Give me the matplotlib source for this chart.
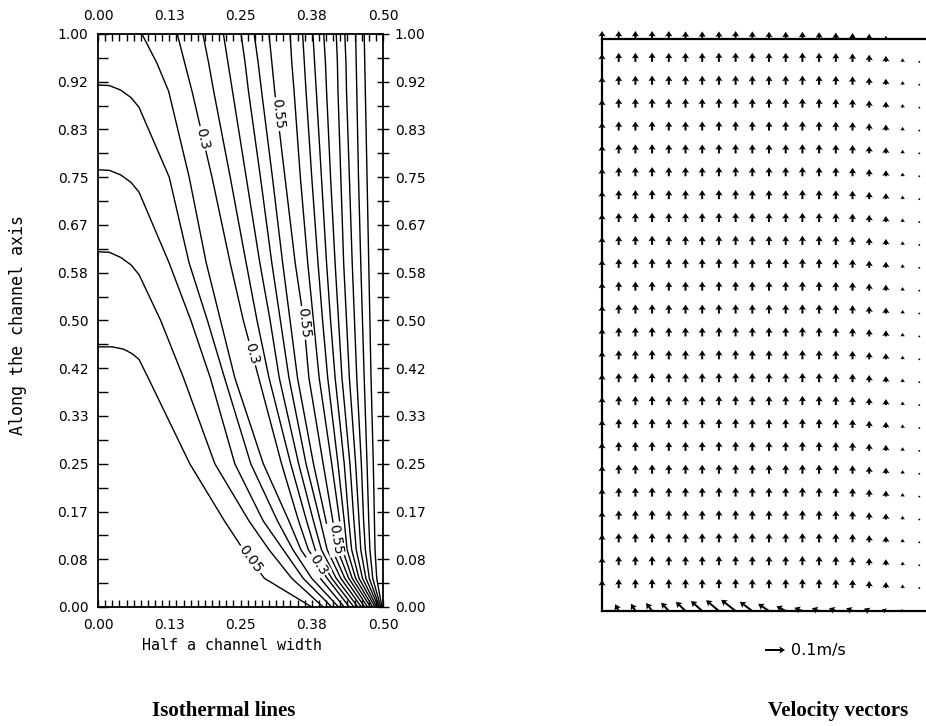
import numpy as np
import matplotlib
matplotlib.use("Agg")
import matplotlib.pyplot as plt
from matplotlib.ticker import MultipleLocator, FixedLocator

nan = np.nan

# ---------------- isotherm data ----------------
levels = [0.05, 0.10, 0.15, 0.20, 0.25, 0.30, 0.35, 0.40, 0.45, 0.50,
          0.55, 0.60, 0.65, 0.70, 0.75, 0.80, 0.85, 0.90, 0.95]
heights = [1.0, 0.95, 0.9, 0.75, 0.6, 0.5, 0.4, 0.25, 0.15, 0.1, 0.05, 0.0]

# x position of every isotherm (one entry per level) at each height
x_h100 = [nan, nan, nan, nan, .077, .139, .184, .220, .251, .274, .300, .337, .359, .377, .396, .418, .433, .452, .467]
x_h095 = [nan, nan, nan, nan, .103, .152, .194, .228, .258, .281, .305, .340, .362, .380, .399, .420, .435, .453, .468]
x_h090 = [nan, nan, nan, nan, .124, .165, .203, .236, .264, .287, .310, .344, .365, .383, .401, .421, .436, .454, .469]
x_h075 = [nan, nan, nan, .125, .160, .200, .232, .260, .285, .306, .328, .355, .375, .392, .408, .426, .441, .457, .472]
x_h060 = [nan, nan, .125, .160, .190, .232, .260, .284, .305, .324, .346, .368, .386, .401, .416, .431, .446, .461, .475]
x_h050 = [nan, .110, .163, .192, .215, .255, .279, .302, .320, .337, .361, .378, .394, .408, .422, .436, .450, .464, .477]
x_h040 = [.088, .150, .197, .222, .240, .282, .300, .318, .335, .350, .370, .388, .403, .416, .428, .441, .454, .467, .479]
x_h025 = [.161, .205, .240, .268, .290, .322, .338, .352, .365, .378, .395, .410, .421, .432, .442, .452, .462, .472, .483]
x_h015 = [.222, .265, .290, .315, .335, .352, .366, .378, .390, .400, .412, .424, .432, .440, .449, .458, .466, .475, .485]
x_h010 = [.255, .300, .325, .342, .356, .369, .381, .392, .402, .411, .420, .429, .437, .445, .453, .461, .469, .477, .486]
x_h005 = [.292, .340, .360, .375, .390, .402, .410, .418, .426, .433, .440, .446, .452, .458, .464, .470, .476, .482, .489]
x_h000 = [.375, .395, .410, .422, .432, .441, .449, .456, .462, .468, .473, .478, .482, .486, .489, .492, .494, .496, .498]

# isotherms that start on the left wall: wall point, then the rounded knee
wall_levels = [0.05, 0.10, 0.15, 0.20]
wall_y = [0.454, 0.620, 0.763, 0.911]
knee_x1 = [0.025, 0.020, 0.020, 0.020]
knee_y1 = [0.454, 0.619, 0.762, 0.910]
knee_x2 = [0.045, 0.040, 0.040, 0.040]
knee_y2 = [0.450, 0.610, 0.754, 0.902]
knee_x3 = [0.060, 0.058, 0.058, 0.058]
knee_y3 = [0.442, 0.597, 0.741, 0.889]
knee_x4 = [0.072, 0.072, 0.072, 0.072]
knee_y4 = [0.432, 0.580, 0.724, 0.872]

# contour labels
label_level = [0.30, 0.55, 0.30, 0.55, 0.05, 0.30, 0.55]
label_text = ["0.3", "0.55", "0.3", "0.55", "0.05", "0.3", "0.55"]
label_y = [0.818, 0.860, 0.443, 0.496, 0.083, 0.074, 0.118]

x_ticks = [0.0, 0.125, 0.25, 0.375, 0.5]
x_tick_labels = ["0.00", "0.13", "0.25", "0.38", "0.50"]
y_ticks = [k / 12 for k in range(13)]
y_tick_labels = ["0.00", "0.08", "0.17", "0.25", "0.33", "0.42", "0.50",
                 "0.58", "0.67", "0.75", "0.83", "0.92", "1.00"]

# ---------------- velocity data (m/s) ----------------
n_cols = 20
n_rows = 26  # including bottom (0) and top (25) boundary rows
interior_v = [0.040, 0.045, 0.045, 0.046, 0.045, 0.045, 0.045, 0.046, 0.046, 0.045,
              0.045, 0.045, 0.046, 0.045, 0.044, 0.042, 0.036, 0.030, 0.018, 0.006]
top_v = [0.040, 0.040, 0.040, 0.040, 0.040, 0.038, 0.038, 0.038, 0.040, 0.038,
         0.036, 0.036, 0.036, 0.034, 0.032, 0.030, 0.026, 0.016, 0.008, 0.004]
bottom_u = [0.0, -0.018, -0.022, -0.030, -0.038, -0.048, -0.056, -0.064, -0.072, -0.062,
            -0.054, -0.046, -0.040, -0.036, -0.034, -0.032, -0.026, -0.020, -0.012, -0.006]
bottom_v = [0.0, 0.034, 0.036, 0.040, 0.042, 0.046, 0.050, 0.054, 0.056, 0.046,
            0.036, 0.024, 0.016, 0.014, 0.014, 0.014, 0.012, 0.008, 0.005, 0.0]
ref_speed = 0.1

# ---------------- figure ----------------
W, H = 926, 726
fig = plt.figure(figsize=(W / 100, H / 100), dpi=100)
fig.patch.set_facecolor("white")

ax = fig.add_axes([98 / W, 1 - 607 / H, 285 / W, 573 / H])
ax.set_xlim(0, 0.5)
ax.set_ylim(0, 1)

table = np.array([x_h100, x_h095, x_h090, x_h075, x_h060, x_h050, x_h040,
                  x_h025, x_h015, x_h010, x_h005, x_h000]).T
lines = {}
for i, lev in enumerate(levels):
    xs = np.array(table[i], dtype=float)
    ys = np.array(heights, dtype=float)
    m = ~np.isnan(xs)
    px, py = list(xs[m]), list(ys[m])
    if lev in wall_levels:
        k = wall_levels.index(lev)
        px = [0.0, knee_x1[k], knee_x2[k], knee_x3[k], knee_x4[k]] + px
        py = [wall_y[k], knee_y1[k], knee_y2[k], knee_y3[k], knee_y4[k]] + py
    lines[lev] = (np.array(px), np.array(py))
    ax.plot(px, py, color="black", lw=1.0, solid_joinstyle="round")

for lev, txt, yl in zip(label_level, label_text, label_y):
    px, py = lines[lev]
    xl = np.interp(yl, py[::-1], px[::-1])
    xa = np.interp(yl + 0.02, py[::-1], px[::-1])
    xb = np.interp(yl - 0.02, py[::-1], px[::-1])
    pa = ax.transData.transform((xa, yl + 0.02))
    pb = ax.transData.transform((xb, yl - 0.02))
    ang = np.degrees(np.arctan2(pb[1] - pa[1], pb[0] - pa[0]))
    ax.text(xl, yl, txt, rotation=ang, rotation_mode="anchor", ha="center", va="center",
            fontsize=10, zorder=5,
            bbox=dict(facecolor="white", edgecolor="none", pad=1.2))

ax.xaxis.set_major_locator(FixedLocator(x_ticks))
ax.set_xticklabels(x_tick_labels)
ax.yaxis.set_major_locator(FixedLocator(y_ticks))
ax.set_yticklabels(y_tick_labels)
ax.xaxis.set_minor_locator(MultipleLocator(0.0125))
ax.yaxis.set_minor_locator(MultipleLocator(1 / 24))
ax.tick_params(axis="x", which="both", direction="in", top=True, bottom=True,
               labeltop=True, labelbottom=True, length=5, width=1.0, labelsize=10, pad=8)
ax.tick_params(axis="y", which="both", direction="in", left=True, right=False,
               length=7, width=1.0, labelsize=10, pad=7)
for s in ax.spines.values():
    s.set_linewidth(1.3)

# right-side ticks crossing the frame
ax_r = ax.twinx()
ax_r.set_ylim(0, 1)
ax_r.yaxis.set_major_locator(FixedLocator(y_ticks))
ax_r.set_yticklabels(y_tick_labels)
ax_r.yaxis.set_minor_locator(MultipleLocator(1 / 24))
ax_r.tick_params(axis="y", which="both", direction="inout", length=9, width=1.0,
                 labelsize=10, pad=4)
for s in ax_r.spines.values():
    s.set_visible(False)

fig.text(232 / W, 1 - 645 / H, "Half a channel width", ha="center", va="center",
         fontsize=10.8, family="DejaVu Sans Mono")
fig.text(18 / W, 1 - 325 / H, "Along the channel axis", ha="center", va="center",
         rotation=90, fontsize=12, family="DejaVu Sans Mono")
fig.text(224 / W, 1 - 711 / H, "Isothermal lines", ha="center", va="center",
         fontsize=15, fontweight="bold", family="Liberation Serif")

# ---------------- velocity vectors ----------------
ax2 = fig.add_axes([602 / W, 1 - 611 / H, 324 / W, 572 / H])
ax2.set_xlim(0, 324 / 16.7)
ax2.set_ylim(0, n_rows - 1)
ax2.set_xticks([])
ax2.set_yticks([])
ax2.spines["right"].set_visible(False)
for s in ["left", "top", "bottom"]:
    ax2.spines[s].set_linewidth(1.6)

X, Y, U, V = [], [], [], []
for j in range(n_rows):
    for i in range(n_cols):
        X.append(i)
        Y.append(j)
        if j == 0:
            U.append(bottom_u[i]); V.append(bottom_v[i])
        elif j == n_rows - 1:
            U.append(0.0); V.append(top_v[i])
        else:
            U.append(0.0); V.append(interior_v[i])

q = ax2.quiver(X, Y, U, V, angles="uv", scale_units="inches", scale=ref_speed / 0.2,
               units="dots", width=2.0, headwidth=3.6, headlength=2.8, headaxislength=2.4,
               pivot="tail", color="black", clip_on=False)
ax2.quiverkey(q, X=785 / W, Y=1 - 650 / H, U=ref_speed, label="0.1m/s", labelpos="E",
              coordinates="figure", labelsep=0.06, fontproperties={"size": 11.5})

fig.text(838 / W, 1 - 711 / H, "Velocity vectors", ha="center", va="center",
         fontsize=15, fontweight="bold", family="Liberation Serif")

fig.savefig("out.png", dpi=100, facecolor="white")
